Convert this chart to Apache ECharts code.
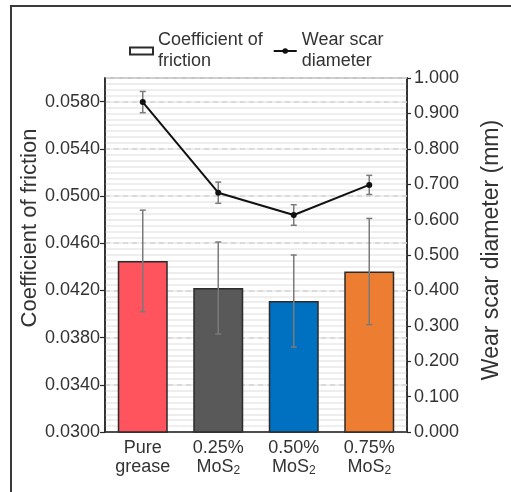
<!DOCTYPE html>
<html>
<head>
<meta charset="utf-8">
<script src="https://cdn.jsdelivr.net/npm/echarts@6/dist/echarts.min.js"></script>
<style>
  html, body { margin: 0; padding: 0; background: #fff; }
  #chart { width: 511px; height: 492px; }
</style>
</head>
<body>
<div id="chart"></div>
<script>
// Lubricant samples
const categories = ['Pure grease', '0.25% MoS2', '0.50% MoS2', '0.75% MoS2'];
const categoryLabels = ['Pure\ngrease', '0.25%\nMoS{sub|2}', '0.50%\nMoS{sub|2}', '0.75%\nMoS{sub|2}'];

// Coefficient of friction (mean and standard deviation)
const cofMean = [0.0445, 0.0422, 0.0411, 0.0436];
const cofErr = [0.0043, 0.0039, 0.0039, 0.0045];

// Wear scar diameter in mm (mean and standard deviation)
const wsdMean = [0.932, 0.676, 0.613, 0.698];
const wsdErr = [0.030, 0.030, 0.029, 0.027];

const barColors = ['#ff535d', '#595959', '#0070c0', '#ed7d31'];

// Axis scales
const cofAxis = { min: 0.03, max: 0.06, interval: 0.004 };
const wsdAxis = { min: 0, max: 1, interval: 0.1 };

const seriesNames = ['Coefficient of friction', 'Wear scar diameter'];
const legendLabels = { 'Coefficient of friction': 'Coefficient of\nfriction', 'Wear scar diameter': 'Wear scar\ndiameter' };

const FONT = '"Liberation Sans", Arial, sans-serif';
const TEXT = '#333333';
const AXIS = '#262626';

function errorBar(params, api) {
  const i = api.value(0);
  const lo = api.coord([i, api.value(1)]);
  const hi = api.coord([i, api.value(2)]);
  const w = 3;
  const style = { stroke: '#7a7a7a', lineWidth: 1.5 };
  return {
    type: 'group',
    children: [
      { type: 'line', shape: { x1: hi[0], y1: hi[1], x2: lo[0], y2: lo[1] }, style },
      { type: 'line', shape: { x1: hi[0] - w, y1: hi[1], x2: hi[0] + w, y2: hi[1] }, style },
      { type: 'line', shape: { x1: lo[0] - w, y1: lo[1], x2: lo[0] + w, y2: lo[1] }, style }
    ]
  };
}

const chart = echarts.init(document.getElementById('chart'), null, { renderer: 'canvas' });

chart.setOption({
  animation: false,
  textStyle: { fontFamily: FONT, color: TEXT },
  graphic: [
    {
      type: 'rect', silent: true, z: -10,
      shape: { x: 11, y: 6, width: 560, height: 560 },
      style: { fill: 'none', stroke: '#3a3a3a', lineWidth: 2 }
    },
    {
      type: 'text', x: 30, y: 228, rotation: Math.PI / 2,
      style: {
        text: 'Coefficient of friction', fontSize: 22, fontFamily: FONT, fill: TEXT,
        align: 'center', verticalAlign: 'middle', textAlign: 'center', textVerticalAlign: 'middle'
      }
    },
    {
      type: 'text', x: 492, y: 250, rotation: Math.PI / 2,
      style: {
        text: 'Wear scar diameter (mm)', fontSize: 23, fontFamily: FONT, fill: TEXT,
        align: 'center', verticalAlign: 'middle', textAlign: 'center', textVerticalAlign: 'middle'
      }
    }
  ],
  legend: {
    data: [{ name: seriesNames[0], icon: 'rect' }, { name: seriesNames[1] }],
    left: 129,
    top: 30,
    padding: 0,
    itemWidth: 23,
    itemHeight: 7,
    itemGap: 10,
    formatter: name => legendLabels[name],
    textStyle: { fontSize: 18, lineHeight: 21, color: TEXT, fontFamily: FONT }
  },
  grid: {
    left: 105, right: 104, top: 78, bottom: 60,
    show: true, borderColor: AXIS, borderWidth: 1.5, backgroundColor: '#fff'
  },
  xAxis: {
    type: 'category',
    data: categories,
    z: 1,
    axisLine: { lineStyle: { color: AXIS, width: 1.5 } },
    axisTick: { show: false },
    axisLabel: {
      interval: 0,
      margin: 7,
      fontSize: 18, lineHeight: 19, color: TEXT, fontFamily: FONT,
      formatter: (v, i) => categoryLabels[i],
      rich: {
        sub: { fontSize: 12, lineHeight: 12, verticalAlign: 'bottom', color: TEXT, fontFamily: FONT }
      }
    },
    splitLine: { show: false }
  },
  yAxis: [
    {
      type: 'value',
      min: cofAxis.min, max: cofAxis.max, interval: cofAxis.interval,
      z: 1,
      axisLine: { show: true, lineStyle: { color: AXIS, width: 1.5 } },
      axisTick: { show: true, length: 5, lineStyle: { color: AXIS, width: 1.2 } },
      axisLabel: {
        margin: 5, fontSize: 18, color: TEXT, fontFamily: FONT, showMaxLabel: false,
        formatter: v => v.toFixed(4)
      },
      splitLine: { show: true, lineStyle: { color: '#d4d4d4', width: 1.5, type: [5, 4] } }
    },
    {
      type: 'value',
      min: wsdAxis.min, max: wsdAxis.max, interval: wsdAxis.interval,
      position: 'right',
      z: 0,
      axisLine: { show: true, lineStyle: { color: AXIS, width: 1.5 } },
      axisTick: { show: true, length: 4, lineStyle: { color: AXIS, width: 1.2 } },
      axisLabel: {
        margin: 7, fontSize: 18, color: TEXT, fontFamily: FONT,
        formatter: v => v.toFixed(3)
      },
      splitLine: { show: true, lineStyle: { color: '#e9e9e9', width: 1.5 } },
      minorTick: { show: false, splitNumber: 6 },
      minorSplitLine: { show: true, lineStyle: { color: '#e9e9e9', width: 1.5 } }
    }
  ],
  series: [
    {
      name: seriesNames[0],
      type: 'bar',
      yAxisIndex: 0,
      barWidth: 50,
      z: 2,
      itemStyle: { color: '#ffffff', borderColor: '#2b2b2b', borderWidth: 1.5 },
      data: cofMean.map((v, i) => ({ value: v, itemStyle: { color: barColors[i] } }))
    },
    {
      name: 'cof-error',
      type: 'custom',
      yAxisIndex: 0,
      z: 3,
      renderItem: errorBar,
      encode: { x: 0, y: [1, 2] },
      data: cofMean.map((v, i) => [i, v - cofErr[i], v + cofErr[i]])
    },
    {
      name: 'wsd-error',
      type: 'custom',
      yAxisIndex: 1,
      z: 4,
      renderItem: errorBar,
      encode: { x: 0, y: [1, 2] },
      data: wsdMean.map((v, i) => [i, v - wsdErr[i], v + wsdErr[i]])
    },
    {
      name: seriesNames[1],
      type: 'line',
      yAxisIndex: 1,
      z: 5,
      symbol: 'circle',
      symbolSize: 6,
      lineStyle: { color: '#111111', width: 2 },
      itemStyle: { color: '#111111' },
      data: wsdMean
    }
  ]
});
</script>
</body>
</html>
